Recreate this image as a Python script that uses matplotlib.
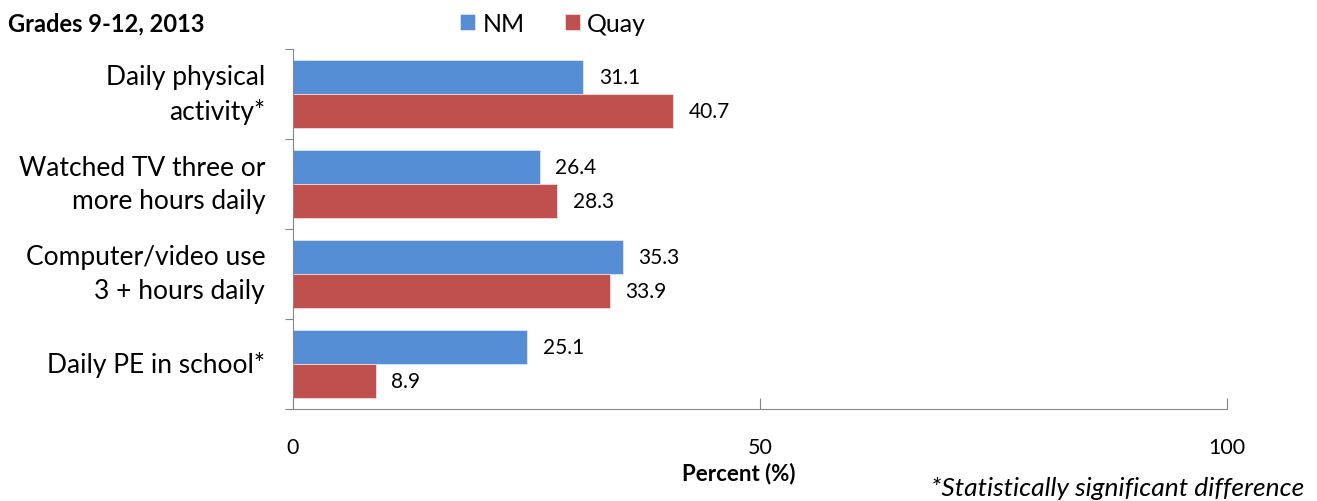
import numpy as np
import matplotlib.pyplot as plt

plt.rcParams['font.family'] = ['Lato', 'DejaVu Sans']

# data
categories = ['Daily physical\nactivity*', 'Watched TV three or\nmore hours daily',
              'Computer/video use\n3 + hours daily', 'Daily PE in school*']
nm_vals = [31.1, 26.4, 35.3, 25.1]
quay_vals = [40.7, 28.3, 33.9, 8.9]
x_ticks = [0, 50, 100]

NM_COLOR = '#558ED5'
QUAY_COLOR = '#C0504D'

fig = plt.figure(figsize=(13.17, 5.02), dpi=100)
ax = fig.add_axes([293 / 1317, 1 - 410 / 502, (1227 - 293) / 1317, 360 / 502])

y = np.arange(len(categories))
h = 0.38
b1 = ax.barh(y - h / 2, nm_vals, height=h, color=NM_COLOR, edgecolor='#DCE6F2',
             linewidth=0.6, label='NM')
b2 = ax.barh(y + h / 2, quay_vals, height=h, color=QUAY_COLOR, edgecolor='#F2DCDB',
             linewidth=0.6, label='Quay')

for bars, vals in [(b1, nm_vals), (b2, quay_vals)]:
    for bar, v in zip(bars, vals):
        ax.annotate(f'{v:.1f}', xy=(v, bar.get_y() + bar.get_height() / 2),
                    xytext=(11, 0), textcoords='offset points',
                    ha='left', va='center', fontsize=15)

ax.set_xlim(0, 100)
ax.set_ylim(len(categories) - 0.5, -0.5)

# category separators as major ticks, labels on minor ticks
ax.set_yticks(np.arange(-0.5, len(categories), 1.0))
ax.set_yticklabels([])
ax.set_yticks(y, minor=True)
ax.set_yticklabels(categories, minor=True, fontsize=19, multialignment='right',
                   linespacing=1.45, va='center')
ax.tick_params(axis='y', which='major', length=6, direction='out', color='#868686')
ax.tick_params(axis='y', which='minor', length=0, pad=20)

ax.set_xticks(x_ticks)
ax.set_xticklabels([str(t) for t in x_ticks], fontsize=15.5)
ax.tick_params(axis='x', length=8, direction='in', color='#868686', pad=20)

for s in ['top', 'right']:
    ax.spines[s].set_visible(False)
for s in ['left', 'bottom']:
    ax.spines[s].set_color('#868686')

ax.set_xlabel('Percent (%)', fontsize=16, fontweight='bold')
ax.xaxis.set_label_coords(0.477, -0.145)

fig.text(0.006, 0.952, 'Grades 9-12, 2013', fontsize=17, fontweight='bold', ha='left', va='center')
fig.text(0.99, 0.026, '*Statistically significant difference', fontsize=19, style='italic',
         ha='right', va='center')

fig.legend(handles=[b1, b2], loc='center', bbox_to_anchor=(0.42, 0.952), ncol=2,
           frameon=False, fontsize=18, handlelength=0.6, handleheight=0.6,
           handletextpad=0.3, columnspacing=1.6)

fig.savefig('out.png', dpi=100)
